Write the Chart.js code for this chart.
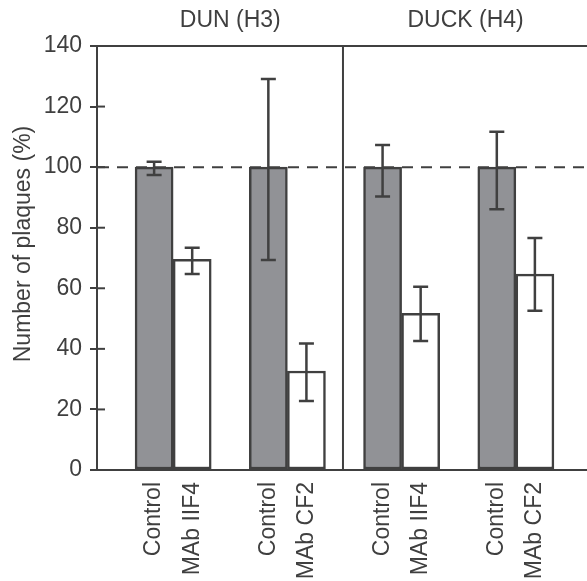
<!DOCTYPE html>
<html>
<head>
<meta charset="utf-8">
<script src="https://cdn.jsdelivr.net/npm/chart.js@4/dist/chart.umd.min.js"></script>
<style>
  html, body { margin: 0; padding: 0; background: #fff; overflow: hidden; }
  #wrap { position: relative; width: 592px; height: 581px; }
</style>
</head>
<body>
<div id="wrap"><canvas id="c"></canvas></div>
<script>
// ---- data ----
const categories = ['', 'Control', 'MAb IIF4', '', 'Control', 'MAb CF2', '', 'Control', 'MAb IIF4', '', 'Control', 'MAb CF2', ''];
const values     = [null, 100, 69.6, null, 100, 32.7, null, 100, 51.7, null, 100, 64.7, null];
const errUpper   = [null, 1.8, 3.8, null, 29.1, 9.1, null, 7.3, 8.8, null, 11.7, 11.9, null];
const errLower   = [null, 2.6, 4.9, null, 30.7, 9.9, null, 9.7, 9.1, null, 13.9, 12.1, null];
const isControl  = [false, true, false, false, true, false, false, true, false, false, true, false, false];
const groupTitles  = ['DUN (H3)', 'DUCK (H4)'];
const groupCenters = [3, 9.18];
const dividerIndex = 5.96;
const referenceValue = 100;
const yMin = 0, yMax = 140, yStep = 20;
const yTitle = 'Number of plaques (%)';

const INK = '#404040';
const TEXT = '#3f3f3f';
const FONT = '"Liberation Sans", Arial, Helvetica, sans-serif';

const extras = {
  id: 'extras',
  afterDraw(chart) {
    const ctx = chart.ctx;
    const xs = chart.scales.x, ys = chart.scales.y;
    const a = chart.chartArea;
    ctx.save();
    ctx.strokeStyle = INK;
    ctx.lineWidth = 2;
    // top frame line
    ctx.beginPath();
    ctx.moveTo(a.left - 1, a.top);
    ctx.lineTo(chart.width, a.top);
    ctx.stroke();
    // divider between groups
    const dx = xs.getPixelForValue(dividerIndex);
    ctx.beginPath();
    ctx.moveTo(dx, a.top);
    ctx.lineTo(dx, a.bottom);
    ctx.stroke();
    // inner tick marks on y axis
    for (let v = yMin; v <= yMax; v += yStep) {
      const y = ys.getPixelForValue(v);
      ctx.beginPath();
      ctx.moveTo(a.left, y);
      ctx.lineTo(a.left + 8, y);
      ctx.stroke();
    }
    // dashed reference line
    const ry = ys.getPixelForValue(referenceValue);
    ctx.setLineDash([11, 8]);
    ctx.beginPath();
    ctx.moveTo(a.left + 1, ry);
    ctx.lineTo(chart.width, ry);
    ctx.stroke();
    ctx.setLineDash([]);
    // error bars
    ctx.lineWidth = 2.5;
    values.forEach((v, i) => {
      if (v === null) return;
      const x = xs.getPixelForValue(i);
      const yt = ys.getPixelForValue(v + errUpper[i]);
      const yb = ys.getPixelForValue(v - errLower[i]);
      ctx.beginPath();
      ctx.moveTo(x, yt); ctx.lineTo(x, yb);
      ctx.moveTo(x - 7.5, yt); ctx.lineTo(x + 7.5, yt);
      ctx.moveTo(x - 7.5, yb); ctx.lineTo(x + 7.5, yb);
      ctx.stroke();
    });
    // group titles
    ctx.fillStyle = TEXT;
    ctx.font = '23px ' + FONT;
    ctx.textAlign = 'center';
    ctx.textBaseline = 'middle';
    groupTitles.forEach((t, k) => {
      ctx.fillText(t, xs.getPixelForValue(groupCenters[k]), 21);
    });
    // y axis title
    ctx.translate(24, 244);
    ctx.rotate(-Math.PI / 2);
    ctx.fillText(yTitle, 0, 0);
    ctx.restore();
  }
};

new Chart(document.getElementById('c'), {
  type: 'bar',
  data: {
    labels: categories,
    datasets: [{
      data: values,
      backgroundColor: isControl.map(c => c ? '#919296' : '#ffffff'),
      borderColor: INK,
      borderWidth: 2.5,
      borderSkipped: false,
      barPercentage: 1,
      categoryPercentage: 1
    }]
  },
  options: {
    responsive: true,
    maintainAspectRatio: false,
    animation: false,
    devicePixelRatio: 1,
    layout: { padding: { top: 46, left: 0, right: 0, bottom: 0 } },
    plugins: { legend: { display: false }, tooltip: { enabled: false }, title: { display: false } },
    scales: {
      x: {
        afterFit(s) { s.height = 111; s.paddingLeft = 0; s.paddingRight = 0; },
        grid: { display: false, drawTicks: false },
        border: { display: true, color: INK, width: 2 },
        ticks: {
          autoSkip: false,
          minRotation: 90,
          maxRotation: 90,
          padding: 12,
          color: TEXT,
          font: { family: FONT, size: 23 }
        }
      },
      y: {
        min: yMin, max: yMax,
        afterFit(s) { s.width = 97; s.paddingTop = 0; s.paddingBottom = 0; },
        grid: { drawOnChartArea: false, drawTicks: true, tickLength: 7, color: INK, lineWidth: 2 },
        border: { display: true, color: INK, width: 2 },
        ticks: {
          stepSize: yStep,
          padding: 8,
          color: TEXT,
          font: { family: FONT, size: 23 }
        }
      }
    }
  },
  plugins: [extras]
});
</script>
</body>
</html>
